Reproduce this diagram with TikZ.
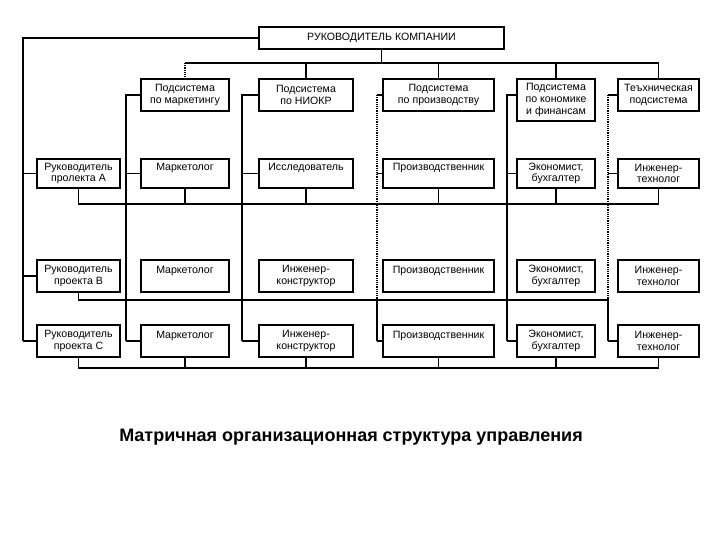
\documentclass[tikz,border=0pt]{standalone}
\usepackage{fontspec}
\setmainfont{Liberation Sans}
\begin{document}
\begin{tikzpicture}[x=1pt,y=-1pt,
  bx/.style={draw,line width=1.8pt,inner sep=0pt,align=center,font=\fontsize{10.6}{11.6}\selectfont},
  ln/.style={line width=1.8pt},
  dl/.style={line width=1.5pt,dash pattern=on 1.2pt off 1pt}]
\useasboundingbox (0,0) rectangle (720,540);
% top
\node[bx,minimum width=245,minimum height=22] (ceo) at (381.5,38) {РУКОВОДИТЕЛЬ КОМПАНИИ};
% subsystems
\node[bx,minimum width=88,minimum height=32] (smk) at (185,95) {Подсистема\\по маркетингу};
\node[bx,minimum width=94,minimum height=32] (sni) at (306,95) {Подсистема\\по НИОКР};
\node[bx,minimum width=111,minimum height=32] (spr) at (438.5,95) {Подсистема\\по производству};
\node[bx,minimum width=78,minimum height=42] (sec) at (556,100) {Подсистема\\по кономике\\и финансам};
\node[bx,minimum width=81,minimum height=32] (ste) at (658.5,95) {Теъхническая\\подсистема};
% row A
\node[bx,minimum width=83,minimum height=29] (pa) at (78.5,173.5) {Руководитель\\пролекта А};
\node[bx,minimum width=88,minimum height=29] (amk) at (185,173.5) {Маркетолог\\[1pt]\phantom{Ж}};
\node[bx,minimum width=94,minimum height=29] (ani) at (306,173.5) {Исследователь\\[1pt]\phantom{Ж}};
\node[bx,minimum width=111,minimum height=29] (apr) at (438.5,173.5) {Производственник\\[1pt]\phantom{Ж}};
\node[bx,minimum width=78,minimum height=29] (aec) at (556,173.5) {Экономист,\\бухгалтер};
\node[bx,minimum width=81,minimum height=29] (ate) at (658.5,173.5) {Инженер-\\технолог};
% row B
\node[bx,minimum width=83,minimum height=32] (pb) at (78.5,276) {Руководитель\\проекта В};
\node[bx,minimum width=88,minimum height=32] (bmk) at (185,276) {Маркетолог\\[1pt]\phantom{Ж}};
\node[bx,minimum width=94,minimum height=32] (bni) at (306,276) {Инженер-\\конструктор};
\node[bx,minimum width=111,minimum height=32] (bpr) at (438.5,276) {Производственник\\[1pt]\phantom{Ж}};
\node[bx,minimum width=78,minimum height=32] (bec) at (556,276) {Экономист,\\бухгалтер};
\node[bx,minimum width=81,minimum height=32] (bte) at (658.5,276) {Инженер-\\технолог};
% row C
\node[bx,minimum width=83,minimum height=32] (pc) at (78.5,341) {Руководитель\\проекта С};
\node[bx,minimum width=88,minimum height=32] (cmk) at (185,341) {Маркетолог\\[1pt]\phantom{Ж}};
\node[bx,minimum width=94,minimum height=32] (cni) at (306,341) {Инженер-\\конструктор};
\node[bx,minimum width=111,minimum height=32] (cpr) at (438.5,341) {Производственник\\[1pt]\phantom{Ж}};
\node[bx,minimum width=78,minimum height=32] (cec) at (556,341) {Экономист,\\бухгалтер};
\node[bx,minimum width=81,minimum height=32] (cte) at (658.5,341) {Инженер-\\технолог};
% coordinates
\coordinate (L0) at (23,38);
\coordinate (Lc) at (23,341);
\coordinate (busL) at (185,63);
\coordinate (busR) at (658.5,63);
\foreach \c/\x in {mk/126,ni/242,pr/377,ec/507,te/608}{
  \coordinate (t\c) at (\x,95);
  \coordinate (b\c) at (\x,341);
}
% project managers line
\draw[ln] (ceo.west) -- (L0) -- (Lc);
\draw[ln] (23,173.5) -- (pa.west);
\draw[ln] (23,276) -- (pb.west);
\draw[ln] (Lc) -- (pc.west);
% top bus
\draw[ln] (ceo.south) -- (ceo.south |- busL);
\draw[ln] (busL) -- (busR);
\draw[dl] (busL) -- (smk.north);
\draw[ln] (sni.north |- busL) -- (sni.north);
\draw[ln] (spr.north |- busL) -- (spr.north);
\draw[ln] (sec.north |- busL) -- (sec.north);
\draw[ln] (busR) -- (ste.north);
% column lines
\draw[ln] (smk.west) -- (tmk) -- (bmk);
\draw[ln] (sni.west) -- (tni) -- (bni);
\draw[ln] (spr.west) -- (tpr);
\draw[dl] (tpr) -- (bpr);
\draw[ln] (sec.west |- tec) -- (tec) -- (bec);
\draw[ln] (ste.west) -- (tte);
\draw[dl] (tte) -- (bte);
\foreach \c in {mk,ni,pr,ec,te}{
  \draw[ln] (t\c |- a\c.west) -- (a\c.west);
  \draw[ln] (t\c |- b\c.west) -- (b\c.west);
  \draw[ln] (b\c) -- (c\c.west);
}
% row buses
\foreach \r/\y in {a/204,b/300,c/368}{
  \draw[ln] (p\r.south) -- (p\r.south |- 0,\y) -- (\r te.south |- 0,\y) -- (\r te.south);
  \foreach \c in {mk,ni,pr,ec}{
    \draw[ln] (\r\c.south) -- (\r\c.south |- 0,\y);
  }
}
% caption
\node[font=\bfseries\fontsize{18}{22}\selectfont] (cap) at (351,437) {Матричная организационная структура управления};
\end{tikzpicture}
\end{document}
